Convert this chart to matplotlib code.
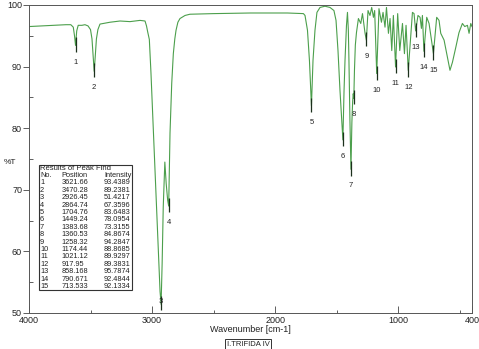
import matplotlib

matplotlib.use('Agg')

import matplotlib.pyplot as plt

# traced spectrum (wavenumber [cm-1], %T)
spec_wavenumber = [
    4000, 3900, 3800, 3700, 3660, 3640, 3630, 3621.66, 3612, 3600,
    3570, 3545, 3520, 3500, 3488, 3478, 3470.28, 3462, 3452, 3440,
    3423, 3342, 3260, 3179, 3098, 3057, 3045, 3035, 3022, 3009,
    2990, 2976, 2960, 2949, 2935, 2926.45, 2918, 2909, 2896, 2885,
    2873, 2864.74, 2854, 2840, 2827, 2815, 2805, 2790, 2773, 2732,
    2692, 2500, 2200, 1900, 1770, 1757, 1737, 1721, 1712, 1704.76,
    1698, 1692, 1676, 1660, 1635, 1595, 1554, 1522, 1505, 1489,
    1473, 1461, 1449.24, 1440, 1432, 1420, 1412, 1405, 1400, 1392,
    1383.68, 1376, 1370, 1365, 1360.53, 1355, 1348, 1339, 1323, 1304,
    1290, 1269, 1258.32, 1245, 1229, 1215, 1201, 1191, 1174.44, 1156,
    1136, 1123, 1107, 1095, 1079, 1066, 1052, 1039, 1021.12, 1004,
    987, 965, 949, 936, 917.95, 884, 871, 858.168, 839, 822,
    811, 803, 790.671, 768, 749, 713.533, 687, 668, 654, 627,
    600, 579, 559, 532, 506, 478, 459, 437, 424, 410,
    400,
]
spec_transmittance = [
    96.5, 96.6, 96.7, 96.8, 96.8, 96.4, 95.0, 93.44, 95.8, 96.7,
    96.7, 96.8, 96.6, 96.0, 94.5, 91.5, 89.24, 91.5, 94.5, 96.0,
    96.9, 97.2, 97.4, 97.3, 97.5, 97.4, 96.6, 95.6, 94.4, 89.1,
    80.0, 73.7, 66.0, 60.2, 53.5, 51.42, 58.0, 67.2, 74.5, 71.0,
    68.3, 67.36, 79.2, 87.3, 92.1, 94.5, 95.9, 97.2, 97.8, 98.3,
    98.5, 98.6, 98.7, 98.7, 98.6, 98.3, 95.9, 91.0, 87.0, 83.65,
    87.5, 91.0, 95.9, 98.8, 99.6, 99.8, 99.6, 99.1, 97.5, 92.6,
    86.2, 82.1, 78.10, 86.0, 91.0, 96.7, 98.8, 96.0, 91.0, 81.3,
    73.32, 81.0, 84.3, 85.6, 84.87, 89.5, 93.5, 95.5, 97.8, 97.0,
    98.6, 95.4, 94.28, 99.1, 98.3, 99.6, 98.0, 99.1, 88.87, 99.4,
    97.2, 98.8, 96.4, 99.6, 95.4, 97.8, 92.6, 98.3, 89.93, 98.6,
    92.6, 97.0, 92.1, 96.7, 89.38, 98.8, 98.6, 95.79, 98.3, 98.0,
    96.2, 98.3, 92.48, 98.0, 97.0, 92.13, 98.0, 97.5, 95.4, 94.3,
    91.5, 89.4, 90.7, 93.1, 95.5, 97.0, 96.5, 96.7, 95.4, 97.0,
    96.5,
]

# results of peak find
peak_numbers = list(range(1, 16))
peak_positions = [
    3621.66, 3470.28, 2926.45, 2864.74, 1704.76, 1449.24, 1383.68, 1360.53,
    1258.32, 1174.44, 1021.12, 917.95, 858.168, 790.671, 713.533,
]
peak_intensities = [
    93.4389, 89.2381, 51.4217, 67.3596, 83.6483, 78.0954, 73.3155, 84.8674,
    94.2847, 88.8685, 89.9297, 89.3831, 95.7874, 92.4844, 92.1334,
]
position_labels = [
    '3621.66', '3470.28', '2926.45', '2864.74', '1704.76', '1449.24',
    '1383.68', '1360.53', '1258.32', '1174.44', '1021.12', '917.95',
    '858.168', '790.671', '713.533',
]
intensity_labels = [
    '93.4389', '89.2381', '51.4217', '67.3596', '83.6483', '78.0954',
    '73.3155', '84.8674', '94.2847', '88.8685', '89.9297', '89.3831',
    '95.7874', '92.4844', '92.1334',
]

x_major = [4000, 3000, 2000, 1000, 400]
x_minor = [3500, 2500, 1500, 500]
y_major = [50, 60, 70, 80, 90, 100]
y_minor = [55, 65, 75, 85, 95]

LINE_COLOR = '#4c9f4c'
MARK_COLOR = '#1c301c'
TEXT_COLOR = '#222222'

plt.rcParams['font.family'] = ['Liberation Sans', 'DejaVu Sans']

fig = plt.figure(figsize=(4.79, 3.49), dpi=100)
ax = fig.add_axes([0.0605, 0.1032, 0.9249, 0.8825])

ax.plot(spec_wavenumber, spec_transmittance, color=LINE_COLOR, linewidth=0.8)
ax.vlines(
    peak_positions,
    [v - 1.0 for v in peak_intensities],
    [v + 1.3 for v in peak_intensities],
    color=MARK_COLOR,
    linewidth=0.9,
)
for n, pos, val in zip(peak_numbers, peak_positions, peak_intensities):
    ax.text(pos, max(val - 2.7, 51.9), str(n), ha='center', va='center',
            fontsize=5.5, color=TEXT_COLOR)

ax.set_xlim(4000, 400)
ax.set_ylim(50, 100)
ax.set_xticks(x_major)
ax.set_xticks(x_minor, minor=True)
ax.set_yticks(y_major)
ax.set_yticks(y_minor, minor=True)
ax.tick_params(axis='x', which='major', direction='in', length=5, width=0.6,
               labelsize=6.5, pad=2, colors='#444444', labelcolor=TEXT_COLOR)
ax.tick_params(axis='x', which='minor', direction='in', length=2.5, width=0.6,
               colors='#444444')
ax.tick_params(axis='y', which='major', direction='out', length=4, width=0.6,
               labelsize=6.5, pad=1, colors='#444444', labelcolor=TEXT_COLOR)
ax.tick_params(axis='y', which='minor', direction='in', length=3, width=0.6,
               colors='#444444')
for spine in ax.spines.values():
    spine.set_linewidth(0.7)
    spine.set_color('#555555')

ax.set_xlabel('Wavenumber [cm-1]', fontsize=6.5, color=TEXT_COLOR, labelpad=0)
fig.text(0.008, 1 - 162 / 349, '%T', fontsize=6, color=TEXT_COLOR,
         ha='left', va='center')
fig.text(248 / 479, 1 - 344 / 349, 'I.TRIFIDA IV', fontsize=5.5,
         color=TEXT_COLOR, ha='center', va='center',
         bbox=dict(boxstyle='square,pad=0.25', facecolor='white',
                   edgecolor='#333333', linewidth=0.7))

# peak table
box = plt.Rectangle((0.0226, 0.0747), 0.2099, 0.4058, transform=ax.transAxes,
                    facecolor='white', edgecolor='#333333', linewidth=0.8,
                    zorder=3)
ax.add_patch(box)
col_x = [0.0248, 0.0734, 0.1693]
ax.text(col_x[0], 0.4675, 'Results of Peak Find', transform=ax.transAxes,
        fontsize=5.5, va='center', ha='left', color=TEXT_COLOR, zorder=4)
for cx, head in zip(col_x, ['No.', 'Position', 'Intensity']):
    ax.text(cx, 0.4448, head, transform=ax.transAxes, fontsize=5.3,
            va='center', ha='left', color=TEXT_COLOR, zorder=4)
for i, (n, p, v) in enumerate(zip(peak_numbers, position_labels,
                                  intensity_labels)):
    ty = (130 - 7.4 * i) / 308
    for cx, s in zip(col_x, [str(n), p, v]):
        ax.text(cx, ty, s, transform=ax.transAxes, fontsize=5.3,
                va='center', ha='left', color=TEXT_COLOR, zorder=4)

fig.savefig('out.png', dpi=100)
plt.close(fig)
